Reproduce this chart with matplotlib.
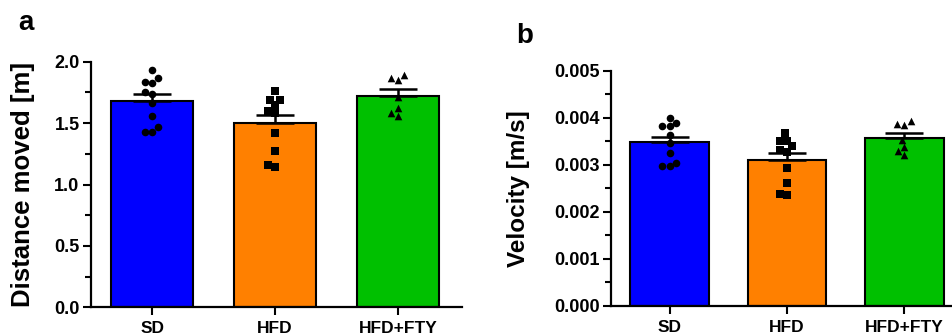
import numpy as np
import matplotlib
matplotlib.use("Agg")
import matplotlib.pyplot as plt
from matplotlib.ticker import MultipleLocator, FormatStrFormatter

# groups and colours
groups = ["SD", "HFD", "HFD+FTY"]
colors = ["#0000FF", "#FF8000", "#00C000"]
markers = ["o", "s", "^"]

# panel a: distance moved [m]
dist_mean = [1.68, 1.50, 1.72]
dist_sem = [0.055, 0.066, 0.055]
dist_sd = [1.93, 1.87, 1.83, 1.835, 1.75, 1.74, 1.66, 1.56, 1.47, 1.43, 1.43]
dist_hfd = [1.76, 1.69, 1.69, 1.645, 1.60, 1.58, 1.42, 1.27, 1.14, 1.155]
dist_fty = [1.87, 1.855, 1.89, 1.71, 1.62, 1.58, 1.555]

# panel b: velocity [m/s]
vel_mean = [0.00349, 0.00310, 0.00357]
vel_sem = [0.00011, 0.000155, 0.00012]
vel_sd = [0.00401, 0.00389, 0.00382, 0.00383, 0.00364, 0.00346, 0.00325, 0.00305, 0.00298, 0.00298]
vel_hfd = [0.00367, 0.00352, 0.00352, 0.00340, 0.00332, 0.00328, 0.00294, 0.00262, 0.00236, 0.00238]
vel_fty = [0.00393, 0.00386, 0.00387, 0.00353, 0.00338, 0.00329, 0.00322]

plt.rcParams['font.family'] = ['Liberation Sans', 'DejaVu Sans']
plt.rcParams['font.weight'] = 'bold'


def swarm(ax, x0, vals, d=7.5):
    # simple beeswarm: offsets in pixels, converted back to data units
    ys = ax.transData.transform([(x0, v) for v in vals])[:, 1]
    px_per_x = ax.transData.transform((1, 0))[0] - ax.transData.transform((0, 0))[0]
    offs = np.zeros(len(vals))
    placed = []
    for i in np.argsort(ys):
        y = ys[i]
        cands = [0.0]
        for px, py in placed:
            dy = abs(y - py)
            if dy < d:
                dx = np.sqrt(d * d - dy * dy)
                cands += [px - dx, px + dx]
        cands.sort(key=abs)
        for c in cands:
            if all((c - px) ** 2 + (y - py) ** 2 >= d * d - 1e-6 for px, py in placed):
                break
        offs[i] = c
        placed.append((c, y))
    return x0 + offs / px_per_x


def panel(ax, means, sems, points, ylim, major, minor, fmt, ylabel, label_x, lsize):
    x = np.arange(len(groups))
    ax.set_xlim(-0.5, 2.52)
    ax.set_ylim(*ylim)
    ax.bar(x, means, width=0.67, color=colors, edgecolor="black", linewidth=1.5, zorder=2)
    ax.errorbar(x, means, yerr=[np.zeros(3), sems], fmt="none", ecolor="black",
                elinewidth=1.8, capsize=14, capthick=1.8, zorder=3)
    for i, vals in enumerate(points):
        xs = swarm(ax, x[i], vals)
        ax.scatter(xs, vals, s=30, marker=markers[i], color="black", zorder=4, linewidths=0)
    ax.spines["top"].set_visible(False)
    ax.spines["right"].set_visible(False)
    ax.spines["left"].set_linewidth(1.6)
    ax.spines["bottom"].set_linewidth(1.6)
    ax.yaxis.set_major_locator(MultipleLocator(major))
    ax.yaxis.set_minor_locator(MultipleLocator(minor))
    ax.yaxis.set_major_formatter(FormatStrFormatter(fmt))
    ax.set_xticks(x)
    ax.set_xticklabels(groups, fontsize=12.5, fontweight="bold")
    ax.tick_params(axis="y", which="major", length=6, width=1.5, labelsize=13, pad=2)
    ax.tick_params(axis="y", which="minor", length=4, width=1.5)
    ax.tick_params(axis="x", length=6, width=1.5, pad=4)
    ax.set_ylabel(ylabel, fontsize=lsize, fontweight="bold")
    ax.yaxis.set_label_coords(label_x, 0.5)


fig = plt.figure(figsize=(9.52, 3.35), dpi=100)
ax1 = fig.add_axes([0.0953, 0.0827, 0.3897, 0.733])
ax2 = fig.add_axes([0.6418, 0.0866, 0.3724, 0.7015])

panel(ax1, dist_mean, dist_sem, [dist_sd, dist_hfd, dist_fty], (0, 2.0), 0.5, 0.25, "%.1f",
      "Distance moved [m]", -0.15, 18.5)
panel(ax2, vel_mean, vel_sem, [vel_sd, vel_hfd, vel_fty], (0, 0.005), 0.001, 0.0005, "%.3f",
      "Velocity [m/s]", -0.228, 17.5)

fig.text(18 / 952, 1 - 30 / 335, "a", fontsize=20, fontweight="bold", va="baseline")
fig.text(516 / 952, 1 - 43 / 335, "b", fontsize=20, fontweight="bold", va="baseline")

fig.savefig("out.png", dpi=100)
